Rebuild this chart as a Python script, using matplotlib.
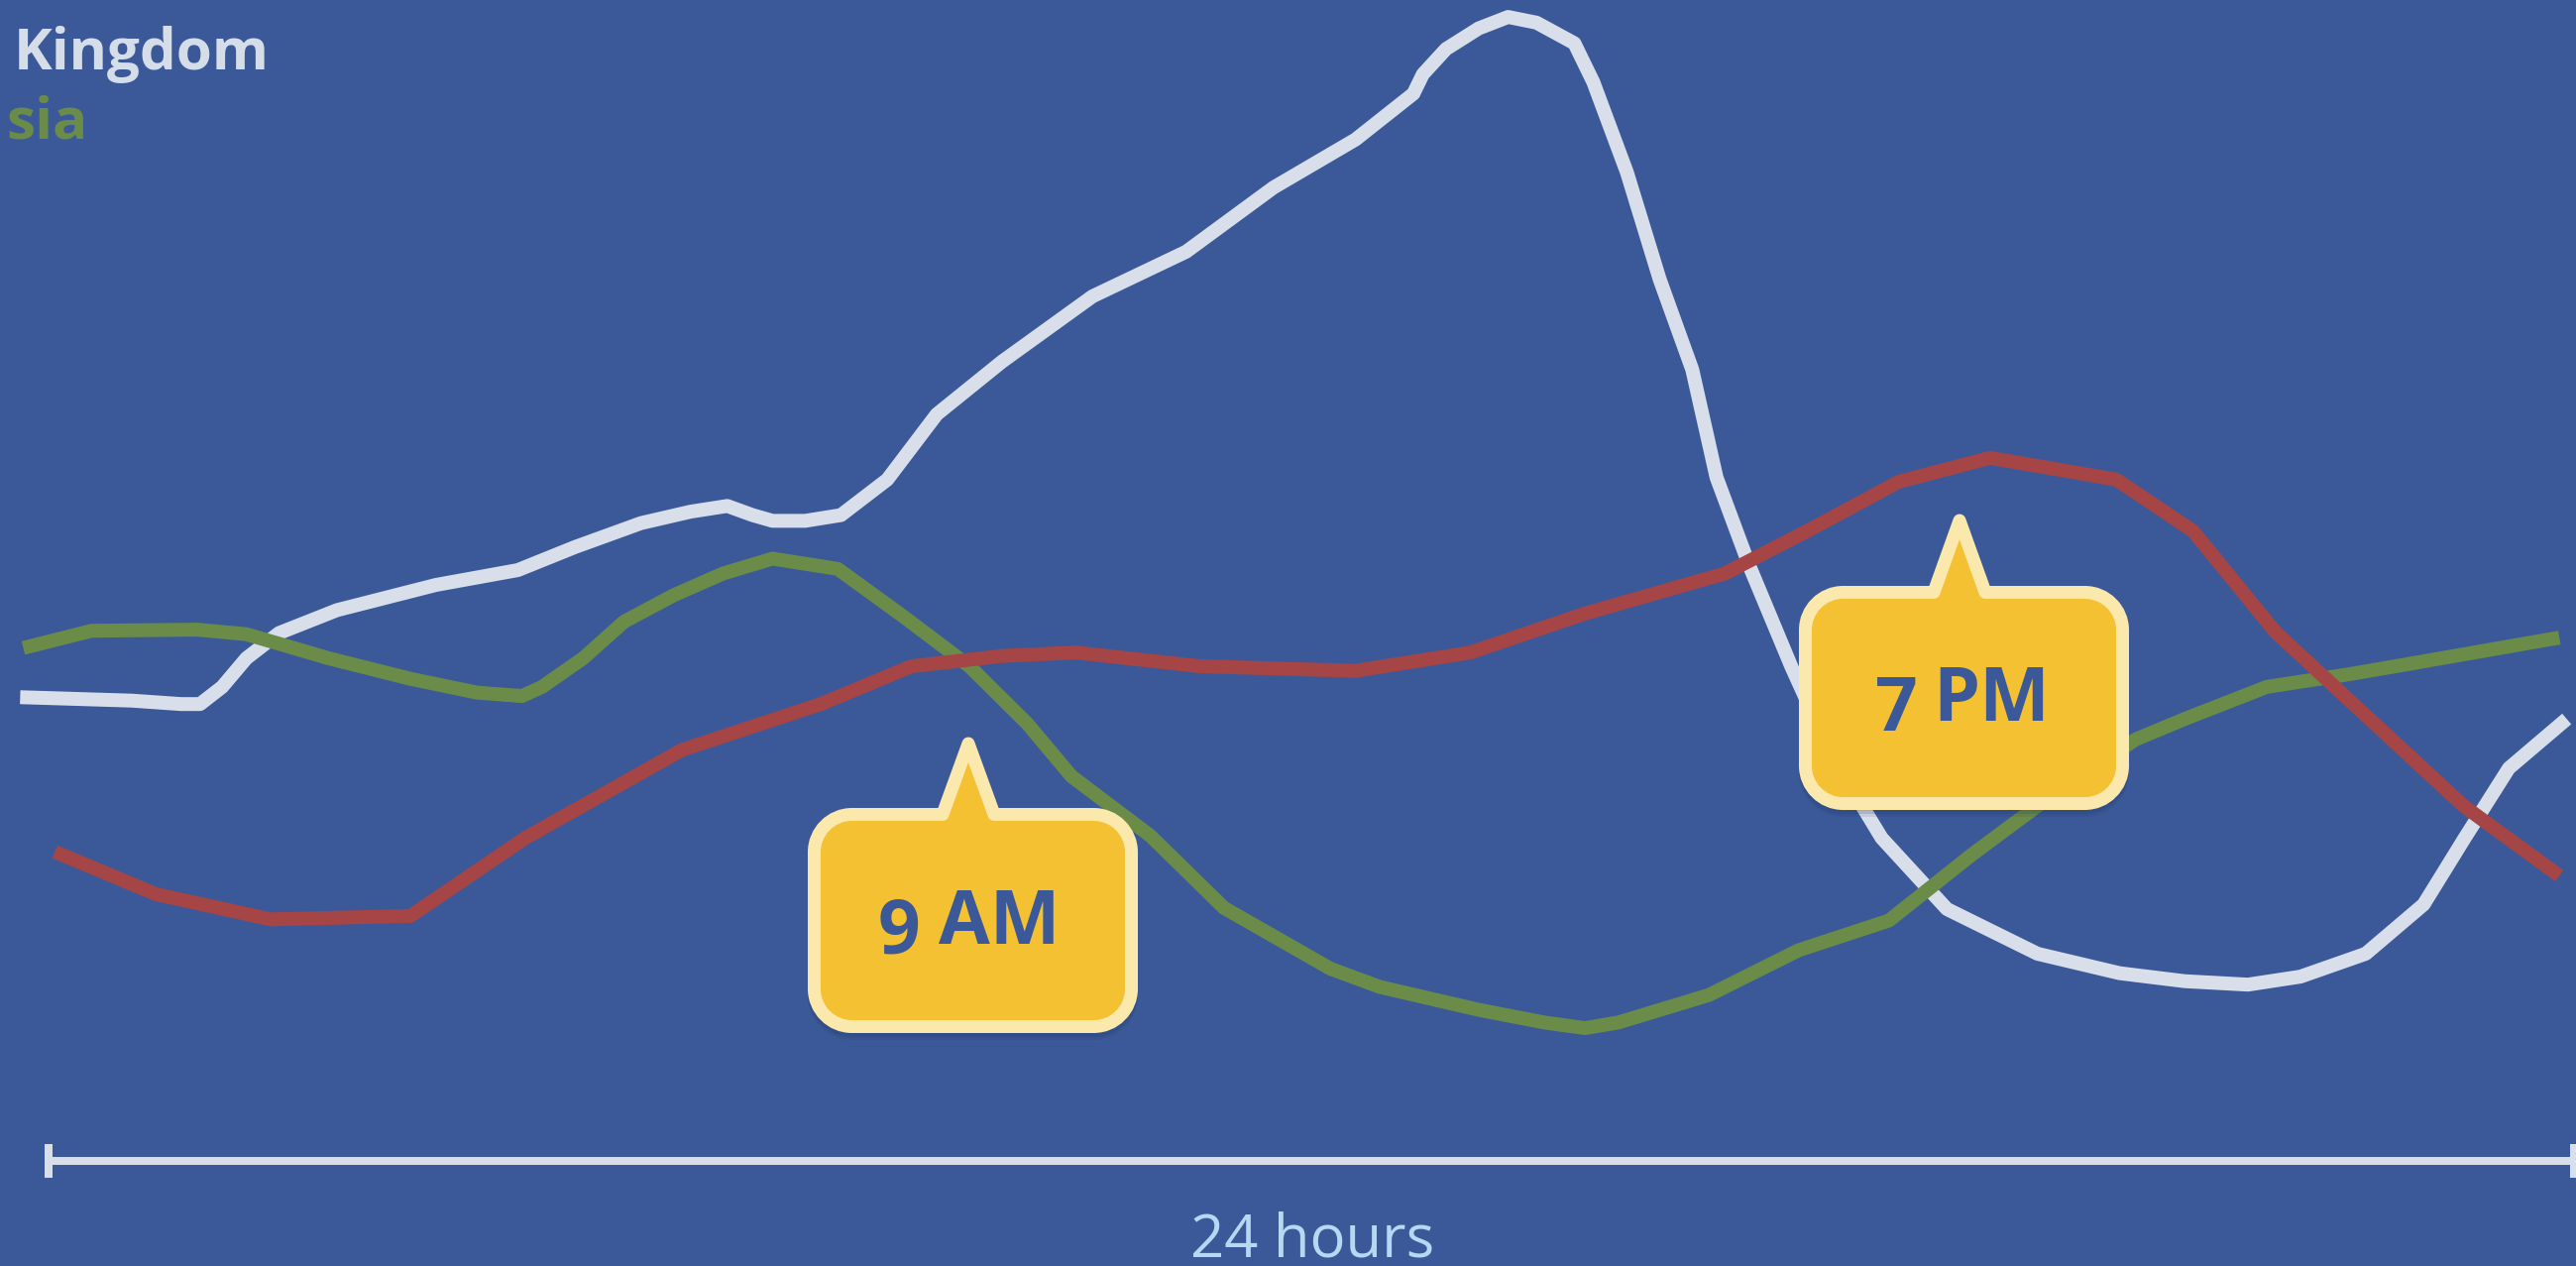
import matplotlib
matplotlib.use("Agg")
import matplotlib.pyplot as plt
from matplotlib.path import Path
from matplotlib.patches import PathPatch
from matplotlib.transforms import Affine2D

plt.rcParams['font.family'] = ['Open Sans', 'DejaVu Sans']

# ---- data: hour of day vs. relative activity (peak = 100) ----
uk_hours = [-0.27, 0.79, 1.26, 1.44, 1.65, 1.88, 2.19, 2.74, 3.68, 4.46, 5.00, 5.63,
            6.10, 6.45, 6.69, 6.88, 7.19, 7.53, 7.97, 8.44, 9.06, 9.92, 10.81, 11.64,
            12.42, 12.97, 13.06, 13.28, 13.59, 13.87, 14.14, 14.50, 14.68, 15.00, 15.31,
            15.62, 15.85, 16.17, 16.56, 16.95, 17.42, 18.04, 18.90, 19.68, 20.30, 20.90,
            21.40, 22.02, 22.57, 22.96, 23.38, 23.93]
uk_values = [40.5, 40.2, 39.9, 39.9, 41.4, 43.9, 46.1, 48.1, 50.3, 51.6, 53.6, 55.7,
             56.7, 57.2, 56.4, 55.9, 55.9, 56.4, 59.5, 65.2, 69.8, 75.5, 79.4, 85.0,
             89.2, 93.2, 94.9, 97.1, 98.9, 99.9, 99.4, 97.6, 94.2, 86.3, 77.0,
             69.1, 59.7, 51.8, 43.2, 35.3, 28.2, 22.0, 18.1, 16.4, 15.7, 15.4,
             16.1, 18.1, 22.4, 28.2, 34.3, 38.6]

asia_hours = [-0.24, 0.41, 1.41, 1.88, 2.66, 3.44, 4.07, 4.50, 4.69, 5.08, 5.47, 5.94,
              6.41, 6.88, 7.50, 8.13, 8.75, 9.30, 9.72, 10.47, 11.17, 12.18, 12.65,
              13.59, 14.21, 14.60, 14.92, 15.78, 16.63, 17.49, 18.27, 18.90, 19.83,
              20.30, 21.08, 21.86, 22.49, 23.86]
asia_values = [44.8, 46.3, 46.4, 46.0, 43.9, 42.1, 40.9, 40.6, 41.4, 43.9, 47.1, 49.4,
               51.3, 52.6, 51.7, 47.5, 43.2, 38.2, 33.6, 28.4, 22.1, 16.8, 15.2,
               13.2, 12.1, 11.6, 12.1, 14.5, 18.4, 21.0, 26.7, 31.0, 36.8,
               38.6, 41.4, 42.5, 43.5, 45.7]

third_hours = [0.06, 1.02, 2.11, 3.44, 4.53, 6.02, 7.34, 8.20, 9.06, 9.76, 10.94, 12.42,
               13.51, 14.60, 15.93, 16.71, 17.58, 18.45, 19.65, 20.38, 21.16, 22.02,
               22.95, 23.86]
third_values = [27.0, 23.3, 21.1, 21.4, 28.2, 35.9, 39.9, 43.2, 44.1, 44.4, 43.2, 42.8,
                44.4, 47.8, 51.3, 55.0, 59.3, 61.4, 59.5, 55.0, 46.2, 38.9,
                31.0, 24.9]

legend_labels = ["Kingdom", "sia"]
callout_labels = [("9", "AM"), ("7", "PM")]
axis_label = "24 hours"

# ---- style ----
BG = "#3b5998"
WHITE = "#d9dfea"
GREEN = "#6a8c48"
RED = "#a54545"
BOX_FILL = "#f4c132"
BOX_EDGE = "#fbe8ac"
LABEL_BLUE = "#b6d8f2"

W, H = 2599, 1277
DPI = 100
fig = plt.figure(figsize=(W / DPI, H / DPI), dpi=DPI, facecolor=BG)
ax = fig.add_axes([0, 0, 1, 1])
ax.set_facecolor(BG)
ax.set_xlim(-0.4615, 24.018)
ax.set_ylim(-9.17, 101.38)
ax.axis("off")

px = 72.0 / DPI  # points per pixel
lw = 14 * px
common = dict(linewidth=lw, solid_capstyle="butt", solid_joinstyle="round")
ax.plot(uk_hours, uk_values, color=WHITE, zorder=2, **common)
ax.plot(asia_hours, asia_values, color=GREEN, zorder=3, **common)
ax.plot(third_hours, third_values, color=RED, zorder=4, **common)

# time axis with end ticks
ax.plot([0, 24], [0, 0], color=WHITE, linewidth=8 * px, solid_capstyle="butt", zorder=1)
for t in (0, 24):
    ax.plot([t, t], [-1.5, 1.5], color=WHITE, linewidth=8 * px,
            solid_capstyle="butt", zorder=1)

# pixel coordinates (y down) -> figure
pix = Affine2D().scale(1.0 / W, -1.0 / H).translate(0, 1) + fig.transFigure


def bubble_path(x0, y0, x1, y1, r, bl, br, tip):
    k = 0.5523 * r
    tx, ty = tip
    verts = [
        (x0 + r, y0), (bl, y0), (tx, ty), (br, y0), (x1 - r, y0),
        (x1 - r + k, y0), (x1, y0 + r - k), (x1, y0 + r),
        (x1, y1 - r),
        (x1, y1 - r + k), (x1 - r + k, y1), (x1 - r, y1),
        (x0 + r, y1),
        (x0 + r - k, y1), (x0, y1 - r + k), (x0, y1 - r),
        (x0, y0 + r),
        (x0, y0 + r - k), (x0 + r - k, y0), (x0 + r, y0),
        (x0 + r, y0),
    ]
    codes = [Path.MOVETO, Path.LINETO, Path.LINETO, Path.LINETO, Path.LINETO,
             Path.CURVE4, Path.CURVE4, Path.CURVE4,
             Path.LINETO,
             Path.CURVE4, Path.CURVE4, Path.CURVE4,
             Path.LINETO,
             Path.CURVE4, Path.CURVE4, Path.CURVE4,
             Path.LINETO,
             Path.CURVE4, Path.CURVE4, Path.CURVE4,
             Path.CLOSEPOLY]
    return Path(verts, codes)


def callout(x0, y0, x1, y1, tip, num, unit, num_x, unit_x, base_y):
    path = bubble_path(x0, y0, x1, y1, 38, tip[0] - 26, tip[0] + 26, tip)
    for off, a in ((7, 0.10), (4, 0.15)):
        shadow = PathPatch(path, facecolor="#1c2c55", edgecolor="#1c2c55",
                           linewidth=13 * px, joinstyle="round", alpha=a,
                           transform=Affine2D().translate(0, off) + pix, zorder=9)
        fig.add_artist(shadow)
    fig.add_artist(PathPatch(path, facecolor=BOX_FILL, edgecolor=BOX_EDGE,
                             linewidth=13 * px, joinstyle="round",
                             transform=pix, zorder=10))
    fig.text(num_x, base_y + 10, num, transform=pix, ha="center", va="baseline",
             fontsize=54, fontweight="bold", color=BG, zorder=11)
    fig.text(unit_x, base_y, unit, transform=pix, ha="center", va="baseline",
             fontsize=54, fontweight="bold", color=BG, zorder=11)


callout(821.5, 821.5, 1141.5, 1035.5, (977, 750), callout_labels[0][0],
        callout_labels[0][1], 907, 1008, 952)
callout(1821.5, 597.5, 2141.5, 810.5, (1977, 525), callout_labels[1][0],
        callout_labels[1][1], 1913, 2009, 727)

# series names in the top-left corner
fig.text(14, 70, legend_labels[0], transform=pix, ha="left", va="baseline",
         fontsize=42, fontweight="bold", color="#d5dde9")
fig.text(6, 140, legend_labels[1], transform=pix, ha="left", va="baseline",
         fontsize=42, fontweight="bold", color=GREEN)

fig.text(1324, 1267, axis_label, transform=pix, ha="center", va="baseline",
         fontsize=43, fontweight="normal", color=LABEL_BLUE)

fig.savefig("out.png", dpi=DPI, facecolor=BG)
